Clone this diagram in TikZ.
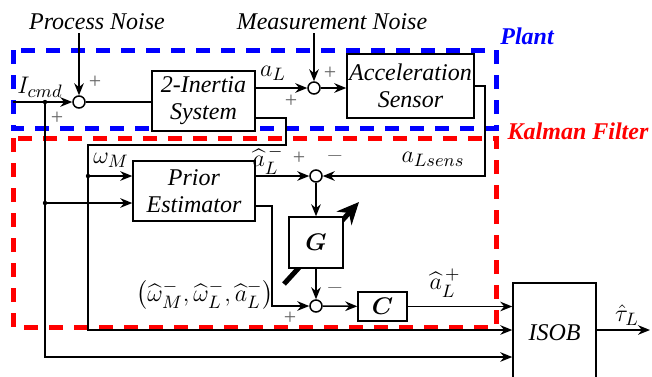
\documentclass[tikz,border=0pt]{standalone}
\usepackage{amsmath,bm}
\usepackage{fontspec}
\setmainfont{Liberation Serif}
\usetikzlibrary{arrows.meta}
\begin{document}
\begin{tikzpicture}[x=0.5pt,y=-0.5pt,
  font=\fontsize{12}{13.5}\selectfont\itshape,
  >={Stealth[length=6pt,width=4.8pt]},
  line width=0.75pt,
  blk/.style={draw, fill=white, line width=0.75pt, align=center, inner sep=0pt},
  sumc/.style={circle, draw, fill=white, minimum size=6pt, inner sep=0pt},
  sgn/.style={font=\fontsize{11}{11}\selectfont\upshape, text=black!60, inner sep=0pt},
  dotn/.style={circle, fill, inner sep=0pt, minimum size=2.2pt},
  frame/.style={line width=2.5pt, dash pattern=on 7pt off 5.5pt},
  lbl/.style={inner sep=0pt, font=\fontsize{12.5}{14}\selectfont}]
\useasboundingbox (0,0) rectangle (652,376);

% frames
\draw[frame, blue] (13,50) rectangle (496,128);
\draw[frame, red] (13,138) rectangle (496,327);
\node[lbl, blue, font=\fontsize{12}{13.5}\selectfont\bfseries\itshape] (plant) at (527,36) {Plant};
\node[lbl, red, font=\fontsize{12}{13.5}\selectfont\bfseries\itshape] (kf) at (578,131) {Kalman Filter};

% noise texts
\node[inner sep=0pt] (pnt) at (97,22) {Process Noise};
\node[inner sep=0pt] (mnt) at (332,22) {Measurement Noise};

% gain arrow (behind G)
\coordinate (ga) at (284,284);
\coordinate (gb) at (359,202);
\draw[line width=2.5pt, -{Stealth[length=11pt,width=10pt]}] (ga) -- (gb);

% blocks
\node[blk, minimum width=51.5pt, minimum height=30pt] (inertia) at (203.5,101) {2-Inertia\\System};
\node[blk, minimum width=63.5pt, minimum height=32pt] (sensor) at (410.5,86) {Acceleration\\Sensor};
\node[blk, minimum width=61pt, minimum height=30pt] (prior) at (194,191) {Prior\\Estimator};
\node[blk, minimum width=27pt, minimum height=25.5pt] (G) at (316,242.5) {$\bm{G}$};
\node[blk, minimum width=24.5pt, minimum height=14.5pt] (C) at (382.5,306.5) {$\bm{C}$};
\node[blk, minimum width=41.5pt, minimum height=50pt] (isob) at (554.5,333) {ISOB};

% sums
\node[sumc] (s1) at (79,102) {};
\node[sumc] (s2) at (314,88) {};
\node[sumc] (s3) at (316,176) {};
\node[sumc] (s4) at (316,306) {};

% coordinates
\coordinate (icmd) at (13,102);
\coordinate (d1) at (45,102);
\coordinate (pn) at (79,33);
\coordinate (mn) at (314,33);
\coordinate (k1) at (485,176);
\coordinate (k2) at (286,118);
\coordinate (k3) at (286,145);
\coordinate (k4) at (88,145);
\coordinate (d2) at (88,176);
\coordinate (k5) at (88,330);
\coordinate (d3) at (45,203);
\coordinate (k6) at (45,357);
\coordinate (k7) at (272,206);
\coordinate (out) at (650,330);

% connectors
\draw[->] (icmd) -- (s1);
\draw[->] (pn) -- (s1);
\draw (s1) -- (inertia.west |- s1);
\draw[->] (inertia.east |- s2) -- (s2);
\draw[->] (mn) -- (s2);
\draw[->] (s2) -- (sensor.west |- s2);
\draw[->] (sensor.east) -| (k1) -- (s3);
\draw[->] (inertia.east |- k2) -- (k2) -- (k3) -- (k4) -- (k5) -- (k5 -| isob.west);
\draw[->] (d2) -- (d2 -| prior.west);
\draw[->] (d1) -- (k6) -- (k6 -| isob.west);
\draw[->] (d3) -- (d3 -| prior.west);
\draw[->] (prior.east |- s3) -- (s3);
\draw[->] (prior.east |- k7) -- (k7) |- (s4);
\draw[->] (s3) -- (G);
\draw[->] (G) -- (s4);
\draw[->] (s4) -- (C);
\draw[->] (C) -- (C -| isob.west);
\draw[->] (out -| isob.east) -- (out);

% dots
\node[dotn] at (d1) {};
\node[dotn] at (d2) {};
\node[dotn] at (d3) {};

% signal labels
\node[lbl] (licmd) at (40,87) {$I_{cmd}$};
\node[lbl] (lal) at (273,73) {$a_L$};
\node[lbl] (lom) at (111,160) {$\omega_M$};
\node[lbl] (lahm) at (268,160) {$\widehat{a}_L^{\,-}$};
\node[lbl] (lsens) at (433,159) {$a_{Lsens}$};
\node[lbl] (ltup) at (205,295) {$\big(\widehat{\omega}_M^-,\widehat{\omega}_L^-,\widehat{a}_L^-\big)$};
\node[lbl] (lahp) at (445,283) {$\widehat{a}_L^{\,+}$};
\node[lbl] (ltau) at (627,315) {$\hat{\tau}_L$};

% signs
\node[sgn] at (95,82) {+};
\node[sgn] at (57,118) {+};
\node[sgn] at (330,73) {+};
\node[sgn] at (291,101) {+};
\node[sgn] at (299,158) {+};
\node[sgn] at (335,156) {$-$};
\node[sgn] at (335,288) {$-$};
\node[sgn] at (290,318) {+};
\end{tikzpicture}
\end{document}
